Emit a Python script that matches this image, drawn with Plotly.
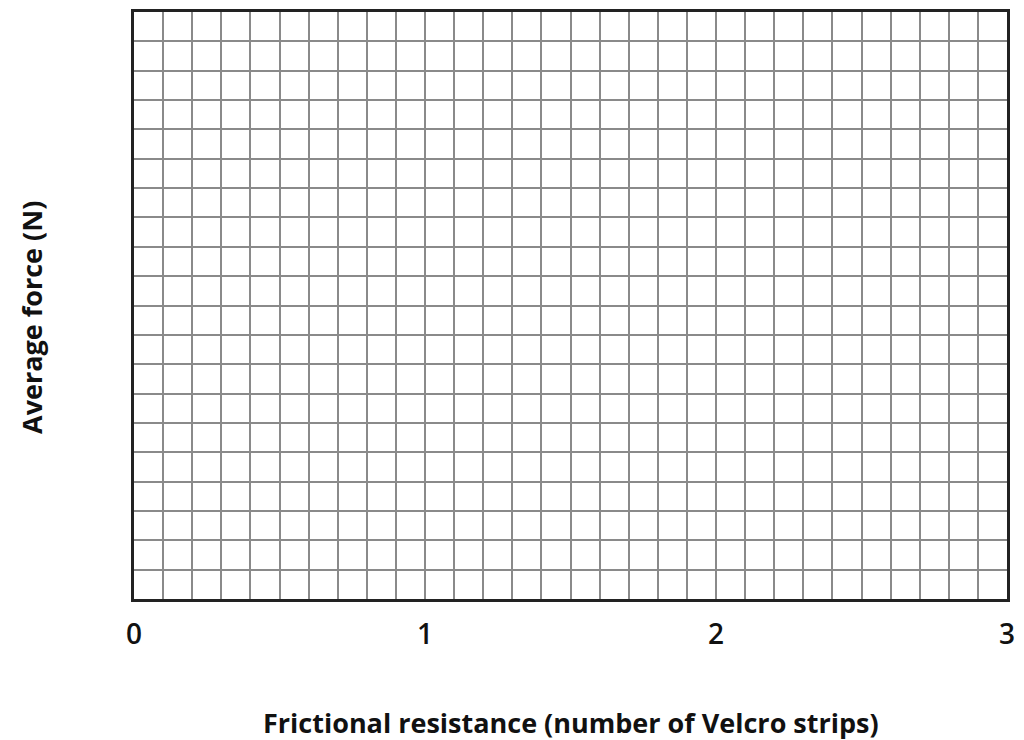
import plotly.graph_objects as go

x_tick_vals = [0, 1, 2, 3]
x_tick_text = ["0", "1", "2", "3"]
x_range = [0, 3]
y_range = [0, 20]
x_minor_step = 0.1
y_step = 1
x_title = "Frictional resistance (number of Velcro strips)"
y_title = "Average force (N)"

grid_color = "#8a8a8a"
font_family = "Open Sans"

# plot area target in page px
W, H = 1024, 740
x0, x1, y0, y1 = 134, 1015, 12, 599
L, R, T, B = x0, W - x1, y0, H - y1
pw, ph = (x1 - x0), (y1 - y0)

fig = go.Figure()
fig.add_trace(go.Scatter(x=[], y=[], mode="markers", showlegend=False))

fig.update_layout(
    width=W, height=H,
    margin=dict(l=L, r=R, t=T, b=B),
    paper_bgcolor="white", plot_bgcolor="white",
    showlegend=False,
    font=dict(family=font_family, color="#111111"),
)

fig.update_xaxes(
    range=x_range, tickvals=x_tick_vals, ticktext=x_tick_text,
    showgrid=True, gridcolor=grid_color, gridwidth=1.5,
    minor=dict(dtick=x_minor_step, showgrid=True, gridcolor=grid_color, gridwidth=1.5),
    ticks="outside", ticklen=8, tickcolor="rgba(0,0,0,0)",
    tickfont=dict(size=28, family=font_family, color="#111111", weight=600),
    showline=True, linecolor="#222222", linewidth=3, mirror=True,
    zeroline=False, fixedrange=True,
)
fig.update_yaxes(
    range=y_range, dtick=y_step, showticklabels=False,
    showgrid=True, gridcolor=grid_color, gridwidth=1.5,
    showline=True, linecolor="#222222", linewidth=3, mirror=True,
    zeroline=False, fixedrange=True,
)

fig.add_annotation(
    text=f"<b>{x_title}</b>", xref="paper", yref="paper",
    x=(575 - x0) / pw, y=-(722 - y1) / ph,
    xanchor="center", yanchor="middle", showarrow=False,
    font=dict(size=27, family=font_family, color="#111111"),
)
fig.add_annotation(
    text=f"<b>{y_title}</b>", xref="paper", yref="paper",
    x=-(x0 - 30) / pw, y=(y1 - 317) / ph,
    xanchor="center", yanchor="middle", textangle=-90, showarrow=False,
    font=dict(size=27, family=font_family, color="#111111"),
)

fig.write_html(
    "out.html",
    config={"displayModeBar": False},
    post_script=(
        "document.documentElement.style.overflow='hidden';"
        "document.body.style.margin='0';document.body.style.overflow='hidden';"
        "window.scrollTo(0,0);"
    ),
)
